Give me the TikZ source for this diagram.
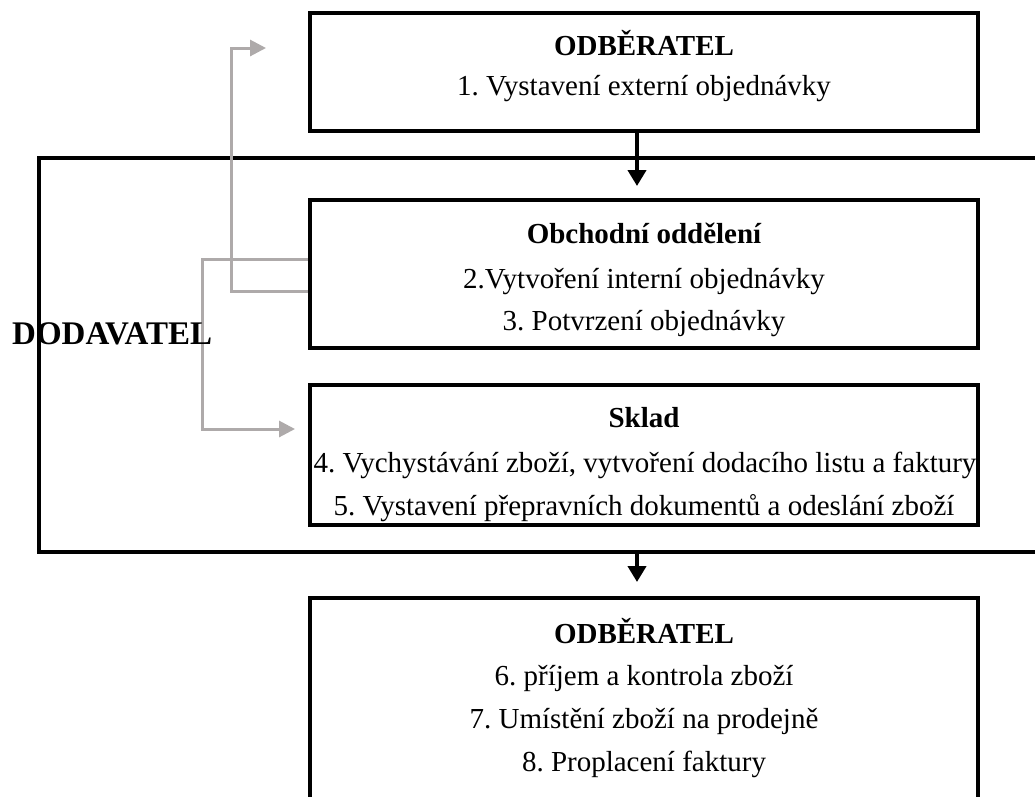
\documentclass[tikz,border=0pt]{standalone}
\usepackage{fontspec}
\setmainfont{Liberation Serif}
\usetikzlibrary{arrows.meta}
\definecolor{flowgray}{RGB}{174,170,170}
\frenchspacing
\tikzset{
  x=1pt, y=-1pt,
  box/.style={draw=black, line width=4pt, minimum width=668pt, inner sep=0pt},
  label/.style={inner sep=0pt, font=\fontsize{29}{34}\selectfont},
  title/.style={label, font=\fontsize{29}{34}\selectfont\bfseries},
  flow/.style={draw=black, line width=4pt, -{Triangle[length=16pt,width=18pt]}},
  feedback/.style={draw=flowgray, line width=3pt, -{Triangle[length=16pt,width=16pt]}}
}
\begin{document}
\begin{tikzpicture}
\clip (0,0) rectangle (1035,796);
\fill[white] (0,0) rectangle (1035,796);

% supplier frame, open past the right edge
\node[draw=black, line width=4pt, minimum width=1010pt, minimum height=394pt, inner sep=0pt] (dod) at (544,355) {};

% boxes
\node[box, minimum height=118pt] (top) at (644,72) {};
\node[box, minimum height=148pt] (obch) at (644,274) {};
\node[box, minimum height=140pt] (sklad) at (644,455) {};
\node[box, minimum height=220pt] (fin) at (644,708) {};

% texts
\node[title] (t1) at (644,43) {ODBĚRATEL};
\node[label] (t1a) at (644,89) {1. Vystavení externí objednávky};

\node[title] (t2) at (644,233) {Obchodní oddělení};
\node[label] (t2a) at (644,282) {2.Vytvoření interní objednávky};
\node[label] (t2b) at (644,324) {3. Potvrzení objednávky};

\node[title] (t3) at (644,418) {Sklad};
\node[label] (t3a) at (645,465) {4. Vychystávání zboží, vytvoření dodacího listu a faktury};
\node[label] (t3b) at (644,508) {5. Vystavení přepravních dokumentů a odeslání zboží};

\node[title] (t4) at (644,631) {ODBĚRATEL};
\node[label] (t4a) at (644,678) {6. příjem a kontrola zboží};
\node[label] (t4b) at (644,721) {7. Umístění zboží na prodejně};
\node[label] (t4c) at (644,764) {8. Proplacení faktury};

% main flow
\coordinate (a1) at (637,186);
\coordinate (a2) at (637,582);
\draw[flow] (top.south -| a1) -- (a1);
\draw[flow] (dod.south -| a2) -- (a2);

% feedback lines from the sales department
\coordinate (g1) at (266,48);
\coordinate (g2) at (295,429);
\draw[feedback] (obch.west |- 0,291) -- (231,291) -- (231,48) -- (g1);
\draw[feedback] (obch.west |- 0,259) -- (202,259) -- (202,429) -- (g2);

% frame label, set over the lines
\node[title, font=\fontsize{33}{38}\selectfont\bfseries, anchor=west] (dodlbl) at (12,334) {DODAVATEL};
\end{tikzpicture}
\end{document}
